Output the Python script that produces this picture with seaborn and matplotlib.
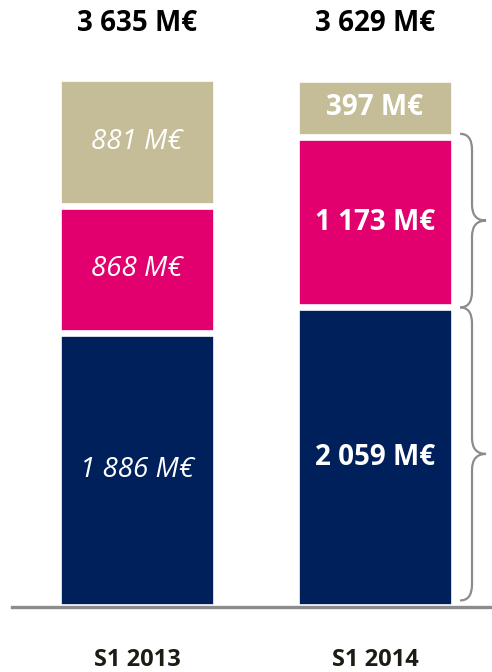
import matplotlib
matplotlib.use("Agg")
import matplotlib.pyplot as plt
import seaborn as sns
import pandas as pd
from matplotlib.path import Path
from matplotlib.patches import PathPatch

periods = ["S1 2013", "S1 2014"]
base = [1886, 2059]
middle = [868, 1173]
top = [881, 397]
totals = [3635, 3629]
base_labels = ["1 886 M€", "2 059 M€"]
middle_labels = ["868 M€", "1 173 M€"]
top_labels = ["881 M€", "397 M€"]
total_labels = ["3 635 M€", "3 629 M€"]

NAVY = "#00205B"
PINK = "#E2006F"
TAN = "#C5BD98"
GRAY = "#8C8C8C"

sns.set_theme(style="white")
plt.rcParams["font.family"] = ["Open Sans", "DejaVu Sans"]

W, H = 492, 672
fig = plt.figure(figsize=(W / 100, H / 100), dpi=100)
ax = fig.add_axes([12 / W, (H - 607) / H, 480 / W, 607 / H])

px_per_unit = 0.1455

df = pd.DataFrame({"period": periods, "base": base, "middle": middle, "top": top})
df["mid_cum"] = df["base"] + df["middle"]
df["top_cum"] = df["mid_cum"] + df["top"]

bw = 0.664
lw = 4.8
sns.barplot(x=[0, 1], y=df["top_cum"], color=TAN, width=bw, native_scale=True,
            edgecolor="white", linewidth=lw, ax=ax, saturation=1)
sns.barplot(x=[0, 1], y=df["mid_cum"], color=PINK, width=bw, native_scale=True,
            edgecolor="white", linewidth=lw, ax=ax, saturation=1)
sns.barplot(x=[0, 1], y=df["base"], color=NAVY, width=bw, native_scale=True,
            edgecolor="white", linewidth=lw, ax=ax, saturation=1)
ax.set_xlim(-0.525, 1.492)
ax.set_ylim(0, 607 / px_per_unit)

for i in range(2):
    italic = "italic" if i == 0 else "normal"
    weight = "normal" if i == 0 else "bold"
    fs = 20 if i == 0 else 20
    b, m, t = base[i], middle[i], top[i]
    ax.text(i, b / 2, base_labels[i], color="white", ha="center", va="center",
            fontsize=fs, style=italic, weight=weight)
    ax.text(i, b + m / 2, middle_labels[i], color="white", ha="center", va="center",
            fontsize=fs, style=italic, weight=weight)
    ax.text(i, b + m + t / 2, top_labels[i], color="white", ha="center", va="center",
            fontsize=fs, style=italic, weight=weight)
    ax.text(i, totals[i] + 55 / px_per_unit, total_labels[i], color="black",
            ha="center", va="center", fontsize=20, weight="bold", clip_on=False)
    ax.text(i, -53 / px_per_unit, periods[i], color="#1c1c14", ha="center",
            va="center", fontsize=17, weight="bold", clip_on=False)

# braces
x0, x1, xt = 1.358, 1.408, 1.467
r = 16 / px_per_unit


def brace(ya, yb):
    ym = (ya + yb) / 2
    verts = [(x0, ya), (x1, ya), (x1, ya - r),
             (x1, ym + r), (x1, ym), (xt, ym),
             (x1, ym), (x1, ym - r),
             (x1, yb + r), (x1, yb), (x0, yb)]
    codes = [Path.MOVETO, Path.CURVE3, Path.CURVE3,
             Path.LINETO, Path.CURVE3, Path.CURVE3,
             Path.CURVE3, Path.CURVE3,
             Path.LINETO, Path.CURVE3, Path.CURVE3]
    ax.add_patch(PathPatch(Path(verts, codes), fill=False, edgecolor=GRAY,
                           linewidth=1.6, clip_on=False))


brace(base[1] + middle[1] + 20, base[1])
brace(base[1], 45)

sns.despine(ax=ax, left=True, top=True, right=True)
ax.spines["bottom"].set_color(GRAY)
ax.spines["bottom"].set_linewidth(2.4)
ax.spines["bottom"].set_zorder(5)
ax.set_xticks([])
ax.set_yticks([])
ax.set_xlabel("")
ax.set_ylabel("")

fig.savefig("out.png", dpi=100, facecolor="white")
